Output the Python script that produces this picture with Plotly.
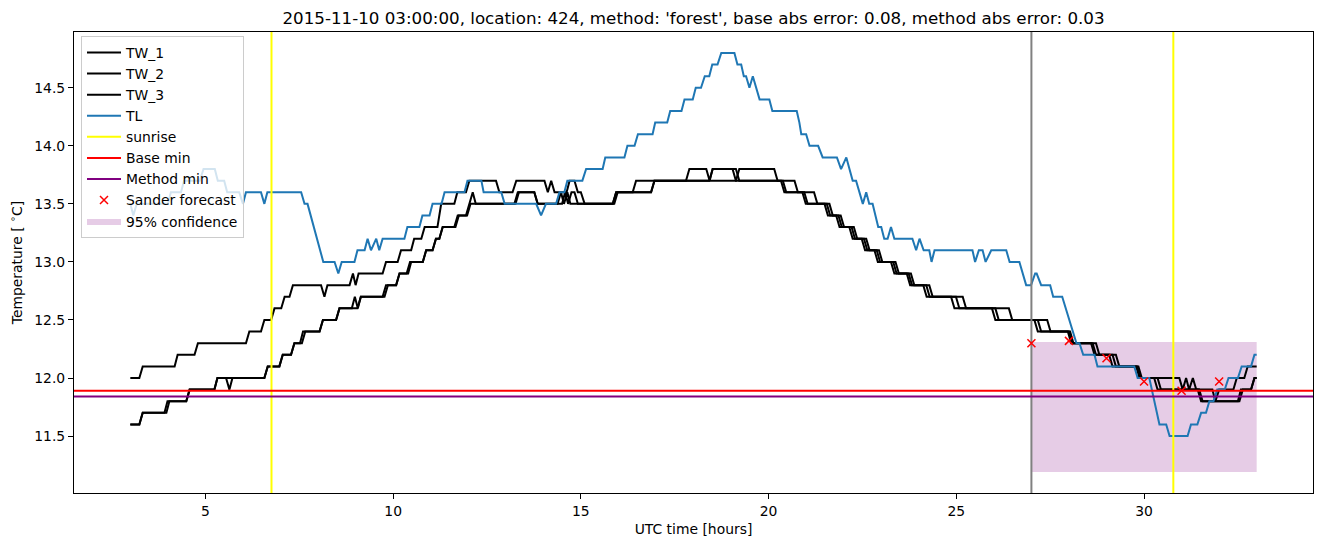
import plotly.graph_objects as go

# ---------------- data ----------------
TITLE = ("2015-11-10 03:00:00, location: 424, method: 'forest', "
         "base abs error: 0.08, method abs error: 0.03")

TW_1 = [(3.0,12.0),(3.24,12.0),(3.33,12.1),(4.18,12.1),(4.26,12.2),(4.71,12.2),(4.8,12.3),(6.08,12.3),
        (6.17,12.4),(6.48,12.4),(6.57,12.5),(6.75,12.5),(6.84,12.6),(7.02,12.6),(7.11,12.7),(7.24,12.7),
        (7.33,12.8),(8.08,12.8),(8.17,12.7),(8.25,12.8),(8.84,12.8),(8.93,12.9),(9.0,12.8),(9.08,12.9),
        (9.72,12.9),(9.81,13.0),(10.12,13.0),(10.21,13.1),(10.48,13.1),(10.56,13.2),(10.75,13.2),(10.84,13.3),
        (11.18,13.3),(11.28,13.5),(11.63,13.5),(11.71,13.6),(11.94,13.6),(12.03,13.7),(12.74,13.7),(12.83,13.6),
        (13.18,13.6),(13.28,13.7),(14.03,13.7),(14.12,13.6),(14.21,13.7),(14.3,13.6),(14.62,13.6),(14.7,13.7),
        (14.83,13.7),(14.92,13.6),(15.0,13.6),(15.1,13.5),(15.85,13.5),(15.94,13.6),(16.38,13.6),(16.47,13.7),
        (17.8,13.7),(17.89,13.8),(18.34,13.8),(18.43,13.7),(18.51,13.8),(19.04,13.8),(19.13,13.7),(20.33,13.7),
        (20.42,13.6),(20.9,13.6),(20.99,13.5),(21.49,13.5),(21.58,13.4),(21.8,13.4),(21.89,13.3),(22.15,13.3),
        (22.24,13.2),(22.48,13.2),(22.57,13.1),(22.82,13.1),(22.91,13.0),(23.26,13.0),(23.35,12.9),(23.68,12.9),
        (23.77,12.8),(24.12,12.8),(24.21,12.7),(24.86,12.7),(24.95,12.6),(25.95,12.6),(26.04,12.5),(27.08,12.5),
        (27.17,12.4),(27.97,12.4),(28.06,12.3),(28.59,12.3),(28.68,12.2),(29.07,12.2),(29.16,12.1),(29.79,12.1),
        (29.88,12.0),(30.94,12.0),(31.03,11.9),(31.12,12.0),(31.2,11.9),(31.3,12.0),(31.39,11.9),(31.82,11.9),
        (31.9,11.8),(32.0,11.9),(32.38,11.9),(32.47,12.0),(32.67,12.0),(32.76,12.1),(33.0,12.1)]

TW_2 = [(3.0,11.6),(3.24,11.6),(3.33,11.7),(3.91,11.7),(3.99,11.8),(4.49,11.8),(4.58,11.9),(5.24,11.9),
        (5.32,12.0),(5.55,12.0),(5.64,11.9),(5.72,12.0),(6.57,12.0),(6.66,12.1),(6.97,12.1),(7.06,12.2),
        (7.28,12.2),(7.37,12.3),(7.52,12.3),(7.6,12.4),(8.04,12.4),(8.13,12.5),(8.48,12.5),(8.57,12.6),
        (8.9,12.6),(8.98,12.7),(9.06,12.6),(9.14,12.7),(9.72,12.7),(9.81,12.8),(10.08,12.8),(10.17,12.9),
        (10.36,12.9),(10.45,13.0),(10.79,13.0),(10.88,13.1),(11.05,13.1),(11.14,13.2),(11.23,13.2),(11.32,13.3),
        (11.63,13.3),(11.72,13.4),(11.94,13.4),(12.03,13.5),(12.12,13.6),(12.2,13.5),(13.23,13.5),(13.32,13.6),
        (13.76,13.6),(13.85,13.5),(14.38,13.5),(14.47,13.6),(14.55,13.5),(14.64,13.6),(14.72,13.5),(15.89,13.5),
        (15.98,13.6),(16.87,13.6),(16.96,13.7),(18.42,13.7),(18.51,13.8),(19.13,13.8),(19.22,13.7),(20.38,13.7),
        (20.47,13.6),(20.95,13.6),(21.04,13.5),(21.55,13.5),(21.64,13.4),(21.86,13.4),(21.95,13.3),(22.21,13.3),
        (22.3,13.2),(22.54,13.2),(22.63,13.1),(22.88,13.1),(22.97,13.0),(23.32,13.0),(23.41,12.9),(23.73,12.9),
        (23.82,12.8),(24.2,12.8),(24.29,12.7),(24.99,12.7),(25.08,12.6),(26.04,12.6),(26.13,12.5),(27.17,12.5),
        (27.26,12.4),(28.0,12.4),(28.09,12.3),(28.63,12.3),(28.72,12.2),(29.16,12.2),(29.25,12.1),(29.82,12.1),
        (29.91,12.0),(30.27,12.0),(30.36,11.9),(31.43,11.9),(31.52,11.8),(32.54,11.8),(32.63,11.9),(32.85,11.9),
        (32.94,12.0),(33.0,12.0)]

TW_3 = [(3.0,11.6),(3.24,11.6),(3.33,11.7),(3.96,11.7),(4.04,11.8),(4.49,11.8),(4.58,11.9),(5.24,11.9),
        (5.32,12.0),(6.57,12.0),(6.66,12.1),(6.97,12.1),(7.06,12.2),(7.28,12.2),(7.37,12.3),(7.57,12.3),
        (7.66,12.4),(8.04,12.4),(8.13,12.5),(8.48,12.5),(8.57,12.6),(9.05,12.6),(9.14,12.7),(9.77,12.7),
        (9.86,12.8),(10.08,12.8),(10.17,12.9),(10.4,12.9),(10.48,13.0),(10.79,13.0),(10.88,13.1),(11.05,13.1),
        (11.14,13.2),(11.23,13.2),(11.32,13.3),(11.66,13.3),(11.75,13.4),(11.97,13.4),(12.06,13.5),(13.26,13.5),
        (13.35,13.6),(13.76,13.6),(13.85,13.5),(14.5,13.5),(14.58,13.6),(14.66,13.5),(14.75,13.6),(14.83,13.6),
        (14.92,13.5),(15.85,13.5),(15.94,13.6),(16.87,13.6),(16.96,13.7),(19.13,13.7),(19.22,13.8),(20.15,13.8),
        (20.24,13.7),(20.69,13.7),(20.78,13.6),(21.21,13.6),(21.3,13.5),(21.62,13.5),(21.71,13.4),(21.92,13.4),
        (22.01,13.3),(22.27,13.3),(22.36,13.2),(22.6,13.2),(22.69,13.1),(22.94,13.1),(23.03,13.0),(23.38,13.0),
        (23.47,12.9),(23.79,12.9),(23.88,12.8),(24.28,12.8),(24.37,12.7),(25.17,12.7),(25.26,12.6),(26.4,12.6),
        (26.49,12.5),(27.42,12.5),(27.51,12.4),(28.03,12.4),(28.12,12.3),(28.72,12.3),(28.81,12.2),(29.25,12.2),
        (29.34,12.1),(29.85,12.1),(29.94,12.0),(30.36,12.0),(30.45,11.9),(31.47,11.9),(31.56,11.8),(32.5,11.8),
        (32.58,11.9),(32.85,11.9),(32.94,12.0),(33.0,12.0)]

TL = [(3.0,13.5),(3.08,13.4),(3.17,13.5),(4.0,13.5),(4.08,13.6),(4.35,13.6),(4.43,13.7),(4.85,13.7),
      (4.95,13.8),(5.25,13.8),(5.33,13.7),(5.5,13.7),(5.58,13.6),(5.9,13.6),(6.0,13.5),(6.08,13.6),
      (6.48,13.6),(6.57,13.5),(6.65,13.6),(7.55,13.6),(7.64,13.5),(7.72,13.5),(8.14,13.0),(8.44,13.0),
      (8.54,12.9),(8.63,13.0),(8.97,13.0),(9.05,13.1),(9.24,13.1),(9.32,13.2),(9.41,13.1),(9.55,13.2),
      (9.63,13.1),(9.72,13.2),(10.3,13.2),(10.38,13.3),(10.7,13.3),(10.78,13.4),(10.97,13.4),(11.05,13.5),
      (11.29,13.5),(11.37,13.6),(11.9,13.6),(11.98,13.7),(12.35,13.7),(12.41,13.6),(12.88,13.6),(12.97,13.5),
      (13.81,13.5),(13.94,13.4),(14.07,13.5),(14.34,13.5),(14.43,13.6),(14.56,13.6),(14.64,13.7),(15.04,13.7),
      (15.14,13.8),(15.58,13.8),(15.65,13.9),(16.16,13.9),(16.24,14.0),(16.43,14.0),(16.52,14.1),(16.91,14.1),
      (16.98,14.2),(17.3,14.2),(17.38,14.3),(17.68,14.3),(17.76,14.4),(17.98,14.4),(18.06,14.5),(18.2,14.5),
      (18.3,14.6),(18.42,14.6),(18.5,14.7),(18.64,14.7),(18.74,14.8),(19.09,14.8),(19.17,14.7),(19.27,14.7),
      (19.34,14.6),(19.4,14.6),(19.49,14.5),(19.58,14.6),(19.76,14.4),(20.02,14.4),(20.1,14.3),(20.75,14.3),
      (20.82,14.2),(20.87,14.1),(21.0,14.1),(21.09,14.0),(21.32,14.0),(21.44,13.9),(21.82,13.9),(21.93,13.8),
      (22.07,13.9),(22.24,13.7),(22.33,13.7),(22.51,13.5),(22.6,13.6),(22.68,13.5),(22.77,13.5),(22.92,13.3),
      (23.0,13.3),(23.08,13.2),(23.17,13.2),(23.26,13.3),(23.35,13.2),(23.83,13.2),(23.93,13.1),(24.02,13.2),
      (24.13,13.1),(24.28,13.1),(24.34,13.0),(24.42,13.1),(25.43,13.1),(25.5,13.0),(25.6,13.1),(25.7,13.1),
      (25.78,13.0),(25.93,13.1),(26.33,13.1),(26.42,13.0),(26.68,13.0),(26.86,12.8),(26.99,12.8),(27.1,12.9),
      (27.14,12.9),(27.26,12.8),(27.5,12.8),(27.58,12.7),(27.82,12.7),(28.1,12.4),(28.2,12.3),(28.28,12.3),
      (28.38,12.2),(28.68,12.2),(28.76,12.1),(29.74,12.1),(29.83,12.0),(30.14,12.0),(30.41,11.6),(30.59,11.6),
      (30.68,11.5),(31.16,11.5),(31.25,11.6),(31.42,11.6),(31.52,11.7),(31.65,11.7),(31.74,11.8),(31.85,11.8),
      (31.95,11.9),(32.15,11.9),(32.25,12.0),(32.5,12.0),(32.6,12.1),(32.85,12.1),(32.94,12.2),(33.0,12.2)]

SUNRISE_TIMES = [6.76, 30.78]
FORECAST_TIME = 27.0
BASE_MIN = 11.89
METHOD_MIN = 11.84
SANDER_T = [27, 28, 29, 30, 31, 32]
SANDER_V = [12.30, 12.32, 12.17, 11.97, 11.89, 11.97]
CONF_T = [27.0, 33.0]
CONF_LOW = 11.19
CONF_HIGH = 12.31

X_TICKS = [5, 10, 15, 20, 25, 30]
Y_TICKS = [11.5, 12.0, 12.5, 13.0, 13.5, 14.0, 14.5]

# ---------------- axis limits like matplotlib autoscale (5% margins) ----------------
all_x = [p[0] for s in (TW_1, TW_2, TW_3, TL) for p in s] + CONF_T
all_y = [p[1] for s in (TW_1, TW_2, TW_3, TL) for p in s] + [CONF_LOW, CONF_HIGH] + SANDER_V
xmin, xmax = min(all_x), max(all_x)
ymin, ymax = min(all_y), max(all_y)
xr = [xmin - 0.05 * (xmax - xmin), xmax + 0.05 * (xmax - xmin)]
yr = [ymin - 0.05 * (ymax - ymin), ymax + 0.05 * (ymax - ymin)]

FONT = "DejaVu Sans"
fig = go.Figure()

# confidence band (drawn first = underneath, listed last in legend)
fig.add_trace(go.Scatter(
    x=[CONF_T[0], CONF_T[1], CONF_T[1], CONF_T[0], CONF_T[0]],
    y=[CONF_LOW, CONF_LOW, CONF_HIGH, CONF_HIGH, CONF_LOW],
    mode="lines", fill="toself", fillcolor="rgba(128,0,128,0.2)",
    line=dict(width=0, color="rgba(128,0,128,0)"),
    name="95% confidence", legendrank=9, hoverinfo="skip"))

for i, (nm, s) in enumerate((("TW_1", TW_1), ("TW_2", TW_2), ("TW_3", TW_3))):
    fig.add_trace(go.Scatter(x=[p[0] for p in s], y=[p[1] for p in s], mode="lines",
                             line=dict(color="black", width=2), name=nm, legendrank=i + 1))

fig.add_trace(go.Scatter(x=[p[0] for p in TL], y=[p[1] for p in TL], mode="lines",
                         line=dict(color="#1f77b4", width=2), name="TL", legendrank=4))

# forecast time marker (grey vertical line)
fig.add_trace(go.Scatter(x=[FORECAST_TIME, FORECAST_TIME], y=yr, mode="lines",
                         line=dict(color="grey", width=2), showlegend=False, hoverinfo="skip"))

sx, sy = [], []
for t in SUNRISE_TIMES:
    sx += [t, t, None]
    sy += [yr[0], yr[1], None]
fig.add_trace(go.Scatter(x=sx, y=sy, mode="lines", line=dict(color="#ffff00", width=2),
                         name="sunrise", legendrank=5))

fig.add_trace(go.Scatter(x=xr, y=[BASE_MIN, BASE_MIN], mode="lines",
                         line=dict(color="red", width=2), name="Base min", legendrank=6))
fig.add_trace(go.Scatter(x=xr, y=[METHOD_MIN, METHOD_MIN], mode="lines",
                         line=dict(color="purple", width=2), name="Method min", legendrank=7))

fig.add_trace(go.Scatter(x=SANDER_T, y=SANDER_V, mode="markers",
                         marker=dict(symbol="x-thin", size=8, line=dict(color="red", width=1.5), color="red"),
                         name="Sander forecast", legendrank=8))

axis_common = dict(showline=True, mirror=True, linecolor="black", linewidth=1,
                   ticks="outside", ticklen=5, tickcolor="black", tickwidth=1,
                   showgrid=False, zeroline=False,
                   tickfont=dict(family=FONT, size=13.9, color="black"))

fig.update_layout(
    width=1324, height=547,
    margin=dict(l=74, r=11, t=32, b=54),
    paper_bgcolor="white", plot_bgcolor="white",
    font=dict(family=FONT, size=13.9, color="black"),
    title=dict(text=TITLE, x=0.5, xref="paper", xanchor="center",
               y=1 - 18 / 547, yref="container", yanchor="middle",
               font=dict(family=FONT, size=16.7, color="black")),
    xaxis=dict(range=xr, tickvals=X_TICKS, ticktext=[str(v) for v in X_TICKS],
               title=dict(text="UTC time [hours]", standoff=6,
                          font=dict(family=FONT, size=13.9, color="black")),
               **axis_common),
    yaxis=dict(range=yr, tickvals=Y_TICKS, ticktext=[f"{v:.1f}" for v in Y_TICKS],
               title=dict(text="Temperature [ <sup>∘</sup>C]", standoff=8,
                          font=dict(family=FONT, size=13.9, color="black")),
               **axis_common),
    legend=dict(x=7 / 1239, y=1 - 4 / 461, xanchor="left", yanchor="top",
                bgcolor="rgba(255,255,255,0.8)", bordercolor="#cccccc", borderwidth=1,
                itemwidth=34,
                font=dict(family=FONT, size=13.9, color="black"), traceorder="normal"),
    showlegend=True,
)

fig.write_html("out.html")
